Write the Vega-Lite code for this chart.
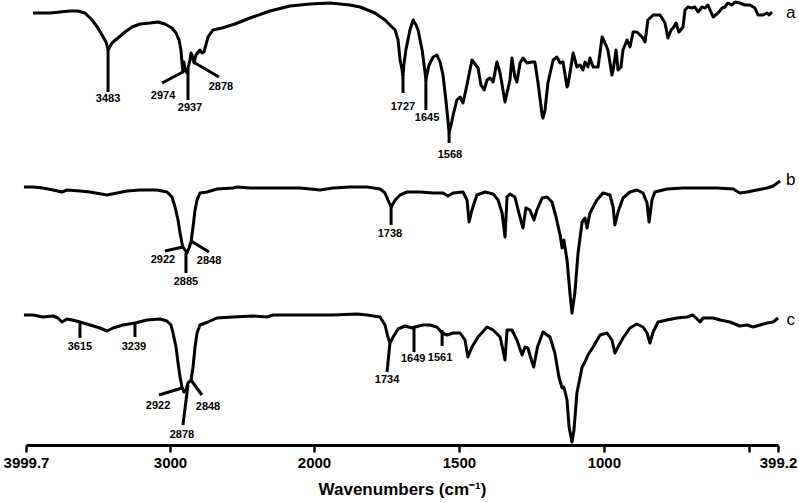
{
"$schema": "https://vega.github.io/schema/vega-lite/v6.json",
"width": 752, "height": 445,
"autosize": {"type": "none"},
"padding": {"left": 26, "top": 0, "right": 21, "bottom": 58},
"background": "white",
"config": {
 "view": {"stroke": null},
 "axisX": {"domainColor": "black", "domainWidth": 3, "tickColor": "black", "tickWidth": 2.5, "tickSize": 7, "labelFont": "Liberation Sans", "labelFontSize": 15, "labelFontWeight": "bold", "labelColor": "black", "labelPadding": 3, "titleFont": "Liberation Sans", "titleFontSize": 17, "titleFontWeight": "bold", "titleColor": "black", "titlePadding": 11, "grid": false, "labelOverlap": false, "labelFlush": false, "labelBound": false}
},
"datasets": {
 "spectra": [
{"s":"a","wn":3951,"t":432},{"s":"a","wn":3833,"t":432},{"s":"a","wn":3764,"t":433},{"s":"a","wn":3694,"t":434},{"s":"a","wn":3639,"t":434},{"s":"a","wn":3590,"t":432},{"s":"a","wn":3541,"t":425},{"s":"a","wn":3500,"t":417},{"s":"a","wn":3472,"t":410},{"s":"a","wn":3444,"t":403},{"s":"a","wn":3430,"t":395},{"s":"a","wn":3403,"t":402},{"s":"a","wn":3361,"t":407},{"s":"a","wn":3312,"t":413},{"s":"a","wn":3264,"t":418},{"s":"a","wn":3208,"t":421},{"s":"a","wn":3139,"t":422},{"s":"a","wn":3083,"t":423},{"s":"a","wn":3035,"t":421},{"s":"a","wn":2986,"t":417},{"s":"a","wn":2958,"t":412},{"s":"a","wn":2937,"t":405},{"s":"a","wn":2924,"t":395},{"s":"a","wn":2917,"t":383},{"s":"a","wn":2910,"t":373},{"s":"a","wn":2903,"t":383},{"s":"a","wn":2896,"t":375},{"s":"a","wn":2882,"t":372},{"s":"a","wn":2875,"t":377},{"s":"a","wn":2861,"t":385},{"s":"a","wn":2854,"t":392},{"s":"a","wn":2847,"t":390},{"s":"a","wn":2833,"t":382},{"s":"a","wn":2820,"t":390},{"s":"a","wn":2792,"t":395},{"s":"a","wn":2778,"t":392},{"s":"a","wn":2764,"t":393},{"s":"a","wn":2736,"t":408},{"s":"a","wn":2702,"t":415},{"s":"a","wn":2639,"t":417},{"s":"a","wn":2549,"t":421},{"s":"a","wn":2445,"t":427},{"s":"a","wn":2306,"t":434},{"s":"a","wn":2167,"t":439},{"s":"a","wn":2028,"t":441},{"s":"a","wn":1945,"t":442},{"s":"a","wn":1876,"t":440},{"s":"a","wn":1841,"t":438},{"s":"a","wn":1790,"t":432},{"s":"a","wn":1755,"t":425},{"s":"a","wn":1738,"t":420},{"s":"a","wn":1720,"t":415},{"s":"a","wn":1710,"t":405},{"s":"a","wn":1703,"t":385},{"s":"a","wn":1696,"t":375},{"s":"a","wn":1693,"t":367},{"s":"a","wn":1690,"t":380},{"s":"a","wn":1683,"t":395},{"s":"a","wn":1669,"t":415},{"s":"a","wn":1658,"t":425},{"s":"a","wn":1648,"t":420},{"s":"a","wn":1641,"t":415},{"s":"a","wn":1627,"t":395},{"s":"a","wn":1617,"t":373},{"s":"a","wn":1614,"t":365},{"s":"a","wn":1607,"t":375},{"s":"a","wn":1603,"t":380},{"s":"a","wn":1589,"t":388},{"s":"a","wn":1576,"t":390},{"s":"a","wn":1565,"t":383},{"s":"a","wn":1555,"t":370},{"s":"a","wn":1545,"t":345},{"s":"a","wn":1538,"t":325},{"s":"a","wn":1534,"t":312},{"s":"a","wn":1527,"t":320},{"s":"a","wn":1520,"t":330},{"s":"a","wn":1507,"t":345},{"s":"a","wn":1496,"t":348},{"s":"a","wn":1486,"t":342},{"s":"a","wn":1476,"t":355},{"s":"a","wn":1462,"t":375},{"s":"a","wn":1455,"t":385},{"s":"a","wn":1434,"t":377},{"s":"a","wn":1424,"t":360},{"s":"a","wn":1413,"t":355},{"s":"a","wn":1403,"t":365},{"s":"a","wn":1393,"t":367},{"s":"a","wn":1382,"t":363},{"s":"a","wn":1369,"t":383},{"s":"a","wn":1358,"t":372},{"s":"a","wn":1341,"t":343},{"s":"a","wn":1324,"t":365},{"s":"a","wn":1317,"t":387},{"s":"a","wn":1307,"t":368},{"s":"a","wn":1300,"t":363},{"s":"a","wn":1289,"t":382},{"s":"a","wn":1279,"t":387},{"s":"a","wn":1265,"t":382},{"s":"a","wn":1248,"t":383},{"s":"a","wn":1238,"t":383},{"s":"a","wn":1227,"t":362},{"s":"a","wn":1213,"t":330},{"s":"a","wn":1210,"t":327},{"s":"a","wn":1203,"t":335},{"s":"a","wn":1193,"t":362},{"s":"a","wn":1175,"t":385},{"s":"a","wn":1162,"t":388},{"s":"a","wn":1151,"t":382},{"s":"a","wn":1141,"t":383},{"s":"a","wn":1127,"t":358},{"s":"a","wn":1124,"t":360},{"s":"a","wn":1117,"t":372},{"s":"a","wn":1106,"t":392},{"s":"a","wn":1093,"t":378},{"s":"a","wn":1082,"t":380},{"s":"a","wn":1072,"t":375},{"s":"a","wn":1065,"t":383},{"s":"a","wn":1055,"t":378},{"s":"a","wn":1048,"t":387},{"s":"a","wn":1037,"t":378},{"s":"a","wn":1020,"t":378},{"s":"a","wn":1006,"t":408},{"s":"a","wn":996,"t":402},{"s":"a","wn":986,"t":395},{"s":"a","wn":972,"t":370},{"s":"a","wn":968,"t":375},{"s":"a","wn":958,"t":395},{"s":"a","wn":951,"t":375},{"s":"a","wn":941,"t":378},{"s":"a","wn":934,"t":395},{"s":"a","wn":920,"t":405},{"s":"a","wn":910,"t":398},{"s":"a","wn":899,"t":413},{"s":"a","wn":886,"t":413},{"s":"a","wn":868,"t":408},{"s":"a","wn":858,"t":403},{"s":"a","wn":848,"t":425},{"s":"a","wn":830,"t":430},{"s":"a","wn":806,"t":430},{"s":"a","wn":789,"t":422},{"s":"a","wn":779,"t":407},{"s":"a","wn":768,"t":415},{"s":"a","wn":761,"t":417},{"s":"a","wn":751,"t":422},{"s":"a","wn":741,"t":413},{"s":"a","wn":727,"t":418},{"s":"a","wn":720,"t":435},{"s":"a","wn":710,"t":438},{"s":"a","wn":696,"t":437},{"s":"a","wn":686,"t":438},{"s":"a","wn":675,"t":433},{"s":"a","wn":661,"t":438},{"s":"a","wn":651,"t":437},{"s":"a","wn":641,"t":440},{"s":"a","wn":623,"t":428},{"s":"a","wn":606,"t":432},{"s":"a","wn":592,"t":437},{"s":"a","wn":582,"t":438},{"s":"a","wn":572,"t":442},{"s":"a","wn":558,"t":440},{"s":"a","wn":548,"t":443},{"s":"a","wn":531,"t":442},{"s":"a","wn":514,"t":440},{"s":"a","wn":496,"t":440},{"s":"a","wn":479,"t":437},{"s":"a","wn":468,"t":430},{"s":"a","wn":451,"t":430},{"s":"a","wn":437,"t":432},{"s":"a","wn":430,"t":430},{"s":"a","wn":420,"t":433},
{"s":"b","wn":4014,"t":258},{"s":"b","wn":3951,"t":258},{"s":"b","wn":3882,"t":257},{"s":"b","wn":3812,"t":255},{"s":"b","wn":3750,"t":253},{"s":"b","wn":3715,"t":255},{"s":"b","wn":3625,"t":254},{"s":"b","wn":3555,"t":253},{"s":"b","wn":3437,"t":250},{"s":"b","wn":3368,"t":252},{"s":"b","wn":3298,"t":254},{"s":"b","wn":3208,"t":255},{"s":"b","wn":3090,"t":255},{"s":"b","wn":3021,"t":253},{"s":"b","wn":2986,"t":248},{"s":"b","wn":2965,"t":238},{"s":"b","wn":2944,"t":225},{"s":"b","wn":2930,"t":212},{"s":"b","wn":2917,"t":202},{"s":"b","wn":2910,"t":198},{"s":"b","wn":2896,"t":195},{"s":"b","wn":2882,"t":192},{"s":"b","wn":2868,"t":197},{"s":"b","wn":2854,"t":203},{"s":"b","wn":2840,"t":218},{"s":"b","wn":2826,"t":235},{"s":"b","wn":2812,"t":245},{"s":"b","wn":2792,"t":252},{"s":"b","wn":2743,"t":253},{"s":"b","wn":2674,"t":256},{"s":"b","wn":2563,"t":257},{"s":"b","wn":2535,"t":258},{"s":"b","wn":2445,"t":257},{"s":"b","wn":2326,"t":257},{"s":"b","wn":2097,"t":257},{"s":"b","wn":1979,"t":255},{"s":"b","wn":1934,"t":257},{"s":"b","wn":1876,"t":258},{"s":"b","wn":1817,"t":258},{"s":"b","wn":1772,"t":256},{"s":"b","wn":1755,"t":252},{"s":"b","wn":1745,"t":245},{"s":"b","wn":1734,"t":238},{"s":"b","wn":1720,"t":245},{"s":"b","wn":1703,"t":250},{"s":"b","wn":1679,"t":253},{"s":"b","wn":1634,"t":253},{"s":"b","wn":1589,"t":252},{"s":"b","wn":1555,"t":252},{"s":"b","wn":1538,"t":249},{"s":"b","wn":1520,"t":252},{"s":"b","wn":1486,"t":253},{"s":"b","wn":1472,"t":245},{"s":"b","wn":1465,"t":223},{"s":"b","wn":1455,"t":235},{"s":"b","wn":1438,"t":250},{"s":"b","wn":1410,"t":253},{"s":"b","wn":1382,"t":251},{"s":"b","wn":1365,"t":245},{"s":"b","wn":1351,"t":232},{"s":"b","wn":1341,"t":208},{"s":"b","wn":1334,"t":248},{"s":"b","wn":1324,"t":251},{"s":"b","wn":1307,"t":248},{"s":"b","wn":1293,"t":232},{"s":"b","wn":1279,"t":217},{"s":"b","wn":1269,"t":237},{"s":"b","wn":1255,"t":235},{"s":"b","wn":1241,"t":225},{"s":"b","wn":1231,"t":235},{"s":"b","wn":1213,"t":247},{"s":"b","wn":1196,"t":248},{"s":"b","wn":1179,"t":243},{"s":"b","wn":1165,"t":228},{"s":"b","wn":1151,"t":210},{"s":"b","wn":1144,"t":197},{"s":"b","wn":1138,"t":205},{"s":"b","wn":1127,"t":185},{"s":"b","wn":1117,"t":152},{"s":"b","wn":1110,"t":132},{"s":"b","wn":1100,"t":152},{"s":"b","wn":1089,"t":192},{"s":"b","wn":1075,"t":223},{"s":"b","wn":1065,"t":227},{"s":"b","wn":1058,"t":217},{"s":"b","wn":1048,"t":232},{"s":"b","wn":1024,"t":245},{"s":"b","wn":1003,"t":252},{"s":"b","wn":979,"t":250},{"s":"b","wn":968,"t":238},{"s":"b","wn":962,"t":220},{"s":"b","wn":951,"t":233},{"s":"b","wn":934,"t":247},{"s":"b","wn":910,"t":253},{"s":"b","wn":886,"t":255},{"s":"b","wn":865,"t":252},{"s":"b","wn":851,"t":242},{"s":"b","wn":844,"t":223},{"s":"b","wn":834,"t":245},{"s":"b","wn":824,"t":253},{"s":"b","wn":782,"t":256},{"s":"b","wn":727,"t":257},{"s":"b","wn":668,"t":257},{"s":"b","wn":610,"t":257},{"s":"b","wn":554,"t":256},{"s":"b","wn":531,"t":252},{"s":"b","wn":506,"t":253},{"s":"b","wn":472,"t":255},{"s":"b","wn":437,"t":257},{"s":"b","wn":416,"t":259},{"s":"b","wn":392,"t":264},
{"s":"c","wn":4014,"t":130},{"s":"c","wn":3951,"t":130},{"s":"c","wn":3882,"t":128},{"s":"c","wn":3812,"t":129},{"s":"c","wn":3778,"t":127},{"s":"c","wn":3750,"t":123},{"s":"c","wn":3715,"t":126},{"s":"c","wn":3680,"t":125},{"s":"c","wn":3625,"t":123},{"s":"c","wn":3555,"t":120},{"s":"c","wn":3486,"t":117},{"s":"c","wn":3437,"t":114},{"s":"c","wn":3396,"t":117},{"s":"c","wn":3326,"t":120},{"s":"c","wn":3243,"t":122},{"s":"c","wn":3160,"t":125},{"s":"c","wn":3069,"t":126},{"s":"c","wn":3021,"t":124},{"s":"c","wn":2993,"t":120},{"s":"c","wn":2979,"t":112},{"s":"c","wn":2958,"t":98},{"s":"c","wn":2944,"t":82},{"s":"c","wn":2930,"t":68},{"s":"c","wn":2917,"t":58},{"s":"c","wn":2903,"t":53},{"s":"c","wn":2889,"t":55},{"s":"c","wn":2875,"t":62},{"s":"c","wn":2854,"t":65},{"s":"c","wn":2840,"t":78},{"s":"c","wn":2826,"t":98},{"s":"c","wn":2812,"t":112},{"s":"c","wn":2792,"t":120},{"s":"c","wn":2736,"t":123},{"s":"c","wn":2674,"t":127},{"s":"c","wn":2563,"t":128},{"s":"c","wn":2424,"t":129},{"s":"c","wn":2326,"t":128},{"s":"c","wn":2285,"t":130},{"s":"c","wn":2097,"t":130},{"s":"c","wn":1934,"t":130},{"s":"c","wn":1852,"t":131},{"s":"c","wn":1817,"t":130},{"s":"c","wn":1772,"t":128},{"s":"c","wn":1755,"t":120},{"s":"c","wn":1745,"t":108},{"s":"c","wn":1738,"t":102},{"s":"c","wn":1727,"t":108},{"s":"c","wn":1710,"t":116},{"s":"c","wn":1686,"t":119},{"s":"c","wn":1662,"t":117},{"s":"c","wn":1652,"t":118},{"s":"c","wn":1624,"t":120},{"s":"c","wn":1600,"t":120},{"s":"c","wn":1576,"t":118},{"s":"c","wn":1558,"t":112},{"s":"c","wn":1541,"t":110},{"s":"c","wn":1520,"t":112},{"s":"c","wn":1496,"t":112},{"s":"c","wn":1479,"t":105},{"s":"c","wn":1469,"t":88},{"s":"c","wn":1455,"t":98},{"s":"c","wn":1434,"t":108},{"s":"c","wn":1403,"t":118},{"s":"c","wn":1382,"t":115},{"s":"c","wn":1358,"t":108},{"s":"c","wn":1348,"t":95},{"s":"c","wn":1341,"t":85},{"s":"c","wn":1334,"t":115},{"s":"c","wn":1317,"t":115},{"s":"c","wn":1300,"t":105},{"s":"c","wn":1282,"t":90},{"s":"c","wn":1272,"t":98},{"s":"c","wn":1262,"t":97},{"s":"c","wn":1248,"t":83},{"s":"c","wn":1242,"t":78},{"s":"c","wn":1229,"t":98},{"s":"c","wn":1210,"t":113},{"s":"c","wn":1186,"t":108},{"s":"c","wn":1169,"t":92},{"s":"c","wn":1155,"t":68},{"s":"c","wn":1144,"t":57},{"s":"c","wn":1138,"t":58},{"s":"c","wn":1127,"t":45},{"s":"c","wn":1120,"t":18},{"s":"c","wn":1110,"t":3},{"s":"c","wn":1103,"t":15},{"s":"c","wn":1093,"t":52},{"s":"c","wn":1075,"t":78},{"s":"c","wn":1065,"t":83},{"s":"c","wn":1055,"t":90},{"s":"c","wn":1037,"t":98},{"s":"c","wn":1013,"t":110},{"s":"c","wn":989,"t":112},{"s":"c","wn":972,"t":105},{"s":"c","wn":962,"t":92},{"s":"c","wn":951,"t":98},{"s":"c","wn":934,"t":107},{"s":"c","wn":910,"t":117},{"s":"c","wn":886,"t":121},{"s":"c","wn":865,"t":118},{"s":"c","wn":851,"t":112},{"s":"c","wn":841,"t":102},{"s":"c","wn":830,"t":113},{"s":"c","wn":813,"t":123},{"s":"c","wn":782,"t":125},{"s":"c","wn":748,"t":127},{"s":"c","wn":713,"t":128},{"s":"c","wn":693,"t":130},{"s":"c","wn":668,"t":123},{"s":"c","wn":658,"t":127},{"s":"c","wn":623,"t":127},{"s":"c","wn":599,"t":125},{"s":"c","wn":565,"t":123},{"s":"c","wn":531,"t":119},{"s":"c","wn":506,"t":120},{"s":"c","wn":485,"t":118},{"s":"c","wn":461,"t":120},{"s":"c","wn":437,"t":122},{"s":"c","wn":416,"t":123},{"s":"c","wn":399,"t":127}
 ],
 "marks": [
{"label":"3483","wn":3430,"t":395,"wn2":3430,"t2":353,"lwn":3430,"lt":346},
{"label":"2974","wn":2910,"t":373,"wn2":3055,"t2":362,"lwn":3048,"lt":349},
{"label":"2937","wn":2875,"t":377,"wn2":2875,"t2":345,"lwn":2861,"lt":337},
{"label":"2878","wn":2826,"t":382,"wn2":2660,"t2":368,"lwn":2646,"lt":358},
{"label":"1727","wn":1693,"t":367,"wn2":1693,"t2":352,"lwn":1693,"lt":338},
{"label":"1645","wn":1614,"t":365,"wn2":1614,"t2":335,"lwn":1610,"lt":327},
{"label":"1568","wn":1534,"t":312,"wn2":1534,"t2":302,"lwn":1531,"lt":290},
{"label":"2922","wn":2910,"t":198,"wn2":3035,"t2":194,"lwn":3049,"lt":185},
{"label":"2885","wn":2889,"t":192,"wn2":2889,"t2":172,"lwn":2889,"lt":163},
{"label":"2848","wn":2854,"t":204,"wn2":2729,"t2":193,"lwn":2729,"lt":184},
{"label":"1738","wn":1734,"t":238,"wn2":1734,"t2":220,"lwn":1738,"lt":211},
{"label":"3615","wn":3625,"t":123,"wn2":3625,"t2":107,"lwn":3625,"lt":98},
{"label":"3239","wn":3243,"t":123,"wn2":3243,"t2":108,"lwn":3250,"lt":98},
{"label":"2922","wn":2917,"t":57,"wn2":3076,"t2":50,"lwn":3083,"lt":39},
{"label":"2878","wn":2875,"t":60,"wn2":2910,"t2":20,"lwn":2917,"lt":10},
{"label":"2848","wn":2854,"t":65,"wn2":2778,"t2":50,"lwn":2736,"lt":38},
{"label":"1734","wn":1738,"t":102,"wn2":1748,"t2":73,"lwn":1748,"lt":65},
{"label":"1649","wn":1655,"t":118,"wn2":1655,"t2":93,"lwn":1658,"lt":86},
{"label":"1561","wn":1558,"t":115,"wn2":1558,"t2":99,"lwn":1565,"lt":87}
 ],
 "names": [
{"label":"a","wn":355,"t":432},
{"label":"b","wn":355,"t":265},
{"label":"c","wn":355,"t":125}
 ]
},
"layer": [
 {"data": {"name": "spectra"},
  "mark": {"type": "line", "color": "black", "strokeWidth": 3, "strokeJoin": "round"},
  "encoding": {
   "x": {"field": "wn", "type": "quantitative", "title": "Wavenumbers (cm⁻¹)",
     "scale": {"domain": [3999.7, 2000, 399.2], "range": [0, 288, 752], "zero": false, "nice": false},
     "axis": {"values": [3999.7, 3000, 2000, 1500, 1000, 500, 399.2], "labelExpr": "datum.value == 500 ? '' : '' + datum.value"}},
   "y": {"field": "t", "type": "quantitative", "scale": {"domain": [0, 445], "zero": false, "nice": false}, "axis": null},
   "detail": {"field": "s"}
  }},
 {"data": {"name": "marks"},
  "mark": {"type": "rule", "color": "black", "strokeWidth": 3},
  "encoding": {
   "x": {"field": "wn", "type": "quantitative", "title": "Wavenumbers (cm⁻¹)"},
   "x2": {"field": "wn2"},
   "y": {"field": "t", "type": "quantitative"},
   "y2": {"field": "t2"}
  }},
 {"data": {"name": "marks"},
  "mark": {"type": "text", "font": "Liberation Sans", "fontSize": 11, "fontWeight": "bold", "color": "black", "baseline": "middle", "align": "center"},
  "encoding": {
   "x": {"field": "lwn", "type": "quantitative", "title": "Wavenumbers (cm⁻¹)"},
   "y": {"field": "lt", "type": "quantitative"},
   "text": {"field": "label"}
  }},
 {"data": {"name": "names"},
  "mark": {"type": "text", "font": "Liberation Sans", "fontSize": 17, "color": "black", "baseline": "middle", "align": "center"},
  "encoding": {
   "x": {"field": "wn", "type": "quantitative", "title": "Wavenumbers (cm⁻¹)"},
   "y": {"field": "t", "type": "quantitative"},
   "text": {"field": "label"}
  }}
]
}
